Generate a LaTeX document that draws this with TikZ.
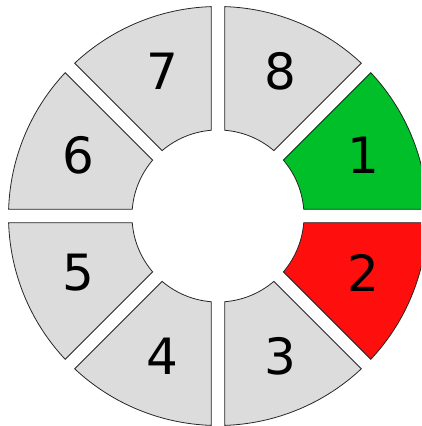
\documentclass[tikz,border=0pt]{standalone}
\usepackage{fontspec}
\setsansfont{DejaVu Sans}
\usetikzlibrary{calc}
\definecolor{segGreen}{HTML}{00BF29}
\definecolor{segRed}{HTML}{FF0E0E}
\definecolor{segGrey}{HTML}{DCDCDC}

\begin{document}
\begin{tikzpicture}[x=1pt,y=1pt,
  seg/.style={draw=black!85,line width=0.8pt},
  num/.style={font=\sffamily\fontsize{50}{56}\selectfont,inner sep=0pt}]
\useasboundingbox (-218,-210) rectangle (203,216);
\clip (-218,-210) rectangle (203,216);
\def\Ro{209.5}\def\Ri{86}\def\gp{6.7}
\pgfmathsetmacro\ao{asin(\gp/\Ro)}
\pgfmathsetmacro\ai{asin(\gp/\Ri)}
\coordinate (mid) at (3,2);
% eight ring segments, clockwise from 1
\foreach \k/\c in {1/segGreen,2/segRed,3/segGrey,4/segGrey,5/segGrey,6/segGrey,7/segGrey,8/segGrey}{
  \pgfmathsetmacro\a{45-45*\k}
  \pgfmathsetmacro\sa{\a+\ao}\pgfmathsetmacro\ea{\a+45-\ao}
  \pgfmathsetmacro\si{\a+45-\ai}\pgfmathsetmacro\ei{\a+\ai}
  \pgfmathsetmacro\m{\a+22.5}
  \filldraw[seg,fill=\c] (\sa:\Ro) arc[start angle=\sa,end angle=\ea,radius=\Ro]
    -- (\si:\Ri) arc[start angle=\si,end angle=\ei,radius=\Ri] -- cycle;
  \node[num] (n\k) at ($(mid)+(\m:154)$) {\k};
}
\end{tikzpicture}
\end{document}
